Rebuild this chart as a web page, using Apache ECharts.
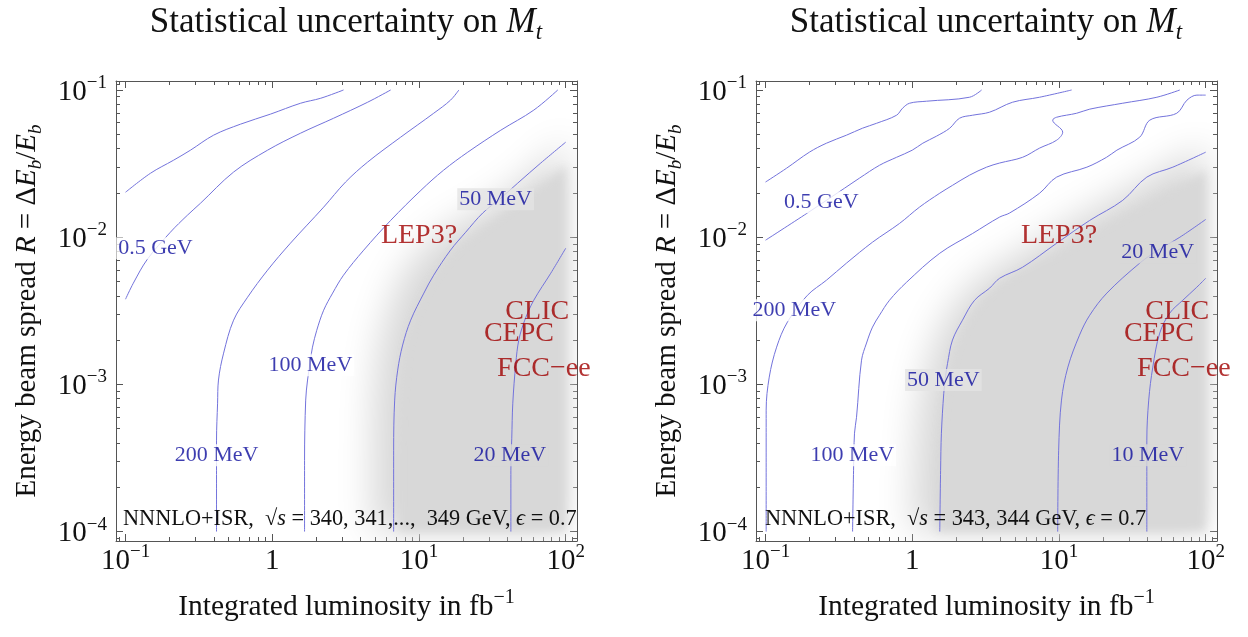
<!DOCTYPE html>
<html>
<head>
<meta charset="utf-8">
<script src="https://cdn.jsdelivr.net/npm/echarts@6.0.0/dist/echarts.min.js"></script>
<style>
html, body { margin: 0; padding: 0; background: #ffffff; }
#chart { width: 1248px; height: 637px; }
</style>
</head>
<body>
<div id="chart"></div>
<script>
// ---------------- axis ticks / tick labels ----------------
const xMajorTicks = [0.1, 1, 10, 100];
const xTickText = [['10', '−1'], ['1', ''], ['10', '1'], ['10', '2']];
const xMinorTicks = [0.09, 0.2, 0.3, 0.4, 0.5, 0.6, 0.7, 0.8, 0.9, 2, 3, 4, 5, 6, 7, 8, 9,
  20, 30, 40, 50, 60, 70, 80, 90, 110];
const yMajorTicks = [0.0001, 0.001, 0.01, 0.1];
const yTickText = [['10', '−4'], ['10', '−3'], ['10', '−2'], ['10', '−1']];
const yMinorTicks = [0.00009, 0.0002, 0.0003, 0.0004, 0.0005, 0.0006, 0.0007, 0.0008, 0.0009,
  0.002, 0.003, 0.004, 0.005, 0.006, 0.007, 0.008, 0.009,
  0.02, 0.03, 0.04, 0.05, 0.06, 0.07, 0.08, 0.09, 0.11];
const X_MIN = 0.0861, X_MAX = 119.4, Y_MIN = 0.0000863, Y_MAX = 0.1151;

// ---------------- left panel: contours [luminosity fb^-1, R] ----------------
const left1GeV = [[0.1,0.0202],[0.148,0.0272],[0.212,0.0333],[0.277,0.039],[0.398,0.0493],[0.608,0.0586],[0.974,0.0686],[1.56,0.0813],[2.14,0.0879],[3.06,0.1]];
const left500MeV = [[0.1,0.00379],[0.113,0.00487],[0.141,0.00709],[0.202,0.0108],[0.264,0.0141],[0.324,0.017],[0.545,0.0277],[0.929,0.039],[1.56,0.0509],[2.62,0.0643],[4.47,0.0826],[6.41,0.1]];
const left200MeV = [[0.417,0.0001],[0.417,0.000261],[0.417,0.000418],[0.424,0.000745],[0.43,0.00107],[0.466,0.00163],[0.545,0.00273],[0.679,0.00391],[0.929,0.00597],[1.33,0.0091],[2.24,0.016],[3.16,0.0237],[4.47,0.0324],[7.5,0.0478],[12.6,0.0695],[16.4,0.0853],[18.7,0.1]];
const left100MeV = [[1.66,0.0001],[1.66,0.000305],[1.69,0.000782],[1.74,0.00107],[1.82,0.00146],[1.88,0.00179],[2.01,0.00233],[2.24,0.00319],[2.58,0.00417],[3.06,0.00552],[4.2,0.00816],[6.41,0.013],[10.3,0.0208],[14.7,0.0285],[21.5,0.0378],[36.1,0.0533],[60.6,0.073],[88.3,0.1]];
const left50MeV = [[6.72,0.0001],[6.72,0.000357],[6.83,0.000782],[7.16,0.00125],[7.74,0.00185],[8.78,0.00273],[10.8,0.00417],[12.6,0.00552],[16.4,0.00816],[20.8,0.0108],[27.2,0.0146],[36.1,0.0184],[47.1,0.0233],[67.6,0.0319],[100,0.0442]];
const left20MeV = [[42.3,0.0001],[42.3,0.000261],[42.9,0.000431],[43.6,0.000745],[45.7,0.00139],[47.9,0.002],[52.6,0.00273],[60.6,0.00373],[79.1,0.00569],[100,0.00841]];
const leftShadeEdge = [[4.83,0.0001],[4.83,0.000357],[4.91,0.000782],[5.31,0.00171],[5.93,0.00273],[6.94,0.00436],[8.11,0.00597],[10.3,0.00816],[15.2,0.0112],[26.4,0.0152],[42.3,0.0208],[62.6,0.0285],[85.6,0.039],[100,0.0493],[100,0.0001]];
const leftShadeCore = [[7.27,0.0001],[7.27,0.000357],[7.5,0.000782],[8.11,0.00171],[9.06,0.00273],[11.1,0.00436],[13.6,0.00597],[17.8,0.00816],[26.4,0.0112],[40.3,0.0152],[67.6,0.0225],[100,0.0308],[100,0.0001]];
const leftContourLabels = [['0.5 GeV',0.16,0.0084],['200 MeV',0.417,0.00033],['100 MeV',1.82,0.00135],['50 MeV',33.3,0.0181],['20 MeV',41.6,0.00033]];

// ---------------- right panel ----------------
const right1GeV = [[0.1,0.0237],[0.139,0.0294],[0.199,0.0378],[0.26,0.0435],[0.356,0.0493],[0.458,0.055],[0.571,0.0594],[0.782,0.0674],[0.859,0.0752],[0.959,0.0813],[1.25,0.0839],[2.46,0.0893],[2.97,0.1]];
const right500MeV = [[0.1,0.00954],[0.193,0.0146],[0.345,0.0215],[0.437,0.0252],[0.598,0.0308],[0.782,0.0349],[1.0,0.039],[1.18,0.0435],[1.46,0.0485],[1.8,0.055],[2.1,0.0643],[2.58,0.0674],[3.37,0.0707],[4.83,0.0826],[7.38,0.0893],[12.2,0.1]];
const right200MeV = [[0.101,0.0001],[0.101,0.000668],[0.106,0.00112],[0.119,0.00179],[0.141,0.00265],[0.193,0.00403],[0.26,0.0051],[0.356,0.00666],[0.536,0.00925],[0.819,0.0124],[1.12,0.016],[1.54,0.0199],[1.88,0.0225],[2.46,0.0264],[3.21,0.0299],[3.94,0.0319],[5.65,0.0349],[7.38,0.0403],[9.64,0.0456],[10.6,0.0517],[9.06,0.0624],[9.64,0.0653],[13.2,0.0695],[16.2,0.0741],[27.2,0.0813],[46.5,0.0893],[66.6,0.1]];
const right100MeV = [[0.392,0.0001],[0.398,0.000261],[0.404,0.000466],[0.417,0.000598],[0.451,0.00146],[0.488,0.00191],[0.536,0.00245],[0.598,0.00295],[0.7,0.00373],[0.914,0.00494],[1.54,0.00778],[2.58,0.0106],[3.94,0.0137],[4.61,0.0146],[7.38,0.0199],[9.64,0.0256],[15.5,0.0299],[21.1,0.0349],[24.8,0.039],[35.5,0.0478],[41.6,0.0624],[63.5,0.0695],[74.5,0.0853],[87.1,0.0923],[100,0.0923]];
const right50MeV = [[1.54,0.0001],[1.56,0.000261],[1.58,0.000466],[1.64,0.000871],[1.69,0.00115],[1.74,0.00139],[1.88,0.002],[2.2,0.00273],[2.66,0.00373],[3.37,0.00451],[3.94,0.00526],[5.65,0.00625],[9.64,0.0091],[16.2,0.013],[27.2,0.0178],[39.7,0.0256],[59.7,0.0299],[100,0.0378]];
const right20MeV = [[9.8,0.0001],[9.95,0.000357],[10.4,0.000782],[11.5,0.00131],[13.8,0.00216],[16.2,0.00295],[21.2,0.00417],[35.5,0.00666],[47.2,0.00816],[66.7,0.01],[100,0.0132]];
const right10MeV = [[39.7,0.0001],[39.7,0.000274],[39.7,0.000418],[40.9,0.000782],[43.6,0.00131],[48.6,0.00223],[56.9,0.00305],[69.8,0.00373],[86.9,0.00457],[100,0.00526]];
const rightShadeEdge = [[0.99,0.0001],[1.04,0.000357],[1.12,0.000782],[1.35,0.00171],[1.66,0.00273],[2.04,0.00373],[2.66,0.00494],[3.37,0.00597],[5.83,0.00816],[10.1,0.0115],[19.0,0.0165],[35.5,0.0233],[61.6,0.0319],[100,0.0422],[100,0.0001]];
const rightShadeCore = [[1.46,0.0001],[1.51,0.000357],[1.64,0.000782],[1.94,0.00171],[2.38,0.00273],[2.97,0.00373],[3.94,0.0048],[5.4,0.00578],[8.65,0.00731],[15.0,0.01],[28.0,0.0141],[52.6,0.0199],[100,0.0285],[100,0.0001]];
const rightContourLabels = [['0.5 GeV',0.24,0.0173],['200 MeV',0.157,0.00319],['100 MeV',0.39,0.00033],['50 MeV',1.63,0.00107],['20 MeV',47.1,0.00791],['10 MeV',40.3,0.00033]];

// ---------------- experiment markers (same in both panels) ----------------
const experiments = [['LEP3?',10,0.0102],['CLIC',64,0.0031],['CEPC',48,0.0022],['FCC−ee',71,0.00127]];

// ---------------- texts ----------------
const titleText = '{n|Statistical uncertainty on }{i|M}{sb|t}';
const noteLeft = '{n|NNNLO+ISR,  √}{i|s}{n| = 340, 341,...,  349 GeV, }{i|ϵ}{n| = 0.7}';
const noteRight = '{n|NNNLO+ISR,  √}{i|s}{n| = 343, 344 GeV, }{i|ϵ}{n| = 0.7}';
const xName = '{n|Integrated luminosity in fb}{s|−1}';
const yName = '{n|Energy beam spread }{i|R}{n| = Δ}{i|E}{sb|b}{n|/}{i|E}{sb|b}';

// ---------------- styles ----------------
const FONT = 'Liberation Serif';
const TEXT = '#111111';
const FRAME = '#555555';
const LINE = '#7373dc';
const LABEL_BLUE = '#0c0c9c';
const EXP_RED = '#a00000';
const SHADE = '#d8d8d8';
const BG = { plain: '#ffffff', edge: '#e4e4e4', shade: SHADE };
const leftLabelBg = [BG.plain, BG.plain, BG.plain, BG.edge, BG.shade];
const rightLabelBg = [BG.plain, BG.plain, BG.plain, BG.edge, BG.shade, BG.shade];

function tok(size, lh, extra) {
  return Object.assign({ fontFamily: FONT, fontSize: size, color: TEXT, lineHeight: lh, fontWeight: 'normal' }, extra || {});
}
const TICK_RICH = {
  b: tok(29, 33, { verticalAlign: 'bottom' }),
  s: tok(19, 19, { verticalAlign: 'top' })
};
const NAME_RICH = {
  n: tok(29, 36),
  i: tok(29, 36, { fontStyle: 'italic' }),
  sb: tok(19, 19, { fontStyle: 'italic', verticalAlign: 'bottom' })
};
const XNAME_RICH = {
  n: tok(29.5, 38),
  s: tok(20, 20, { verticalAlign: 'top' })
};
const TITLE_RICH = {
  n: tok(35, 42),
  i: tok(35, 42, { fontStyle: 'italic' }),
  sb: tok(23, 23, { fontStyle: 'italic', verticalAlign: 'bottom' })
};
const NOTE_RICH = {
  n: tok(22.3, 26),
  i: tok(22.3, 26, { fontStyle: 'italic' })
};

function tickLabel(ticks, texts, v) {
  const idx = ticks.findIndex(t => Math.abs(t - v) <= t * 1e-6);
  if (idx < 0) return '';
  const [b, s] = texts[idx];
  return s ? '{b|' + b + '}{s|' + s + '}' : '{b|' + b + '}';
}

function xAxes(g) {
  const base = { type: 'log', logBase: 10, gridIndex: g, min: X_MIN, max: X_MAX,
    splitLine: { show: false }, axisPointer: { show: false }, silent: true };
  const tickStyle = { color: FRAME, width: 1 };
  return [
    Object.assign({}, base, { position: 'bottom',
      axisLine: { show: true, onZero: false, lineStyle: { color: FRAME, width: 1 } },
      axisTick: { show: true, inside: true, length: 7, customValues: xMajorTicks, lineStyle: tickStyle },
      axisLabel: { show: true, customValues: xMajorTicks, margin: 2,
        formatter: v => tickLabel(xMajorTicks, xTickText, v), rich: TICK_RICH },
      name: xName, nameLocation: 'middle', nameGap: 47, nameTextStyle: { rich: XNAME_RICH } }),
    Object.assign({}, base, { position: 'bottom', axisLine: { show: false },
      axisTick: { show: true, inside: true, length: 4, customValues: xMinorTicks, lineStyle: tickStyle },
      axisLabel: { show: false } }),
    Object.assign({}, base, { position: 'top',
      axisLine: { show: true, onZero: false, lineStyle: { color: FRAME, width: 1 } },
      axisTick: { show: true, inside: true, length: 7, customValues: xMajorTicks, lineStyle: tickStyle },
      axisLabel: { show: false } }),
    Object.assign({}, base, { position: 'top', axisLine: { show: false },
      axisTick: { show: true, inside: true, length: 4, customValues: xMinorTicks, lineStyle: tickStyle },
      axisLabel: { show: false } })
  ];
}
function yAxes(g) {
  const base = { type: 'log', logBase: 10, gridIndex: g, min: Y_MIN, max: Y_MAX,
    splitLine: { show: false }, axisPointer: { show: false }, silent: true };
  const tickStyle = { color: FRAME, width: 1 };
  return [
    Object.assign({}, base, { position: 'left',
      axisLine: { show: true, onZero: false, lineStyle: { color: FRAME, width: 1 } },
      axisTick: { show: true, inside: true, length: 7, customValues: yMajorTicks, lineStyle: tickStyle },
      axisLabel: { show: true, customValues: yMajorTicks, margin: 9,
        formatter: v => tickLabel(yMajorTicks, yTickText, v), rich: TICK_RICH },
      name: yName, nameLocation: 'middle', nameGap: 71, nameTextStyle: { rich: NAME_RICH } }),
    Object.assign({}, base, { position: 'left', axisLine: { show: false },
      axisTick: { show: true, inside: true, length: 4, customValues: yMinorTicks, lineStyle: tickStyle },
      axisLabel: { show: false } }),
    Object.assign({}, base, { position: 'right',
      axisLine: { show: true, onZero: false, lineStyle: { color: FRAME, width: 1 } },
      axisTick: { show: true, inside: true, length: 7, customValues: yMajorTicks, lineStyle: tickStyle },
      axisLabel: { show: false } }),
    Object.assign({}, base, { position: 'right', axisLine: { show: false },
      axisTick: { show: true, inside: true, length: 4, customValues: yMinorTicks, lineStyle: tickStyle },
      axisLabel: { show: false } })
  ];
}

// shaded region: polygons drawn off-canvas, only their blurred shadows land in the plot
function shadeSeries(g, edgePts, corePts) {
  return {
    type: 'custom', xAxisIndex: g * 4, yAxisIndex: g * 4, clip: true, silent: true, z: 1,
    data: [edgePts[0]],
    renderItem: function (params, api) {
      const OFF = 3000;
      const shift = p => { const c = api.coord(p); return [c[0] + OFF, c[1]]; };
      return { type: 'group', children: [
        { type: 'polygon', shape: { points: edgePts.map(shift) },
          style: { fill: SHADE, shadowBlur: 36, shadowColor: SHADE, shadowOffsetX: -OFF } },
        { type: 'polygon', shape: { points: corePts.map(shift) },
          style: { fill: SHADE, shadowBlur: 10, shadowColor: SHADE, shadowOffsetX: -OFF } }
      ] };
    }
  };
}
function lineSeries(g, pts) {
  return { type: 'line', xAxisIndex: g * 4, yAxisIndex: g * 4, data: pts, showSymbol: false,
    symbol: 'none', smooth: 0.35, silent: true, z: 2,
    lineStyle: { color: LINE, width: 1 } };
}
function textSeries(g, items, fontSize, color, bgs, z) {
  return { type: 'scatter', xAxisIndex: g * 4, yAxisIndex: g * 4, symbolSize: 1, silent: true, z: z,
    itemStyle: { color: 'rgba(0,0,0,0)' },
    data: items.map((it, i) => ({ name: it[0], value: [it[1], it[2]],
      label: { backgroundColor: bgs ? bgs[i] : 'transparent' } })),
    label: { show: true, position: 'inside', formatter: p => p.name, fontFamily: FONT,
      fontSize: fontSize, fontWeight: 'normal', color: color, padding: [0, 2] } };
}

const chart = echarts.init(document.getElementById('chart'), null, { renderer: 'canvas' });
chart.setOption({
  animation: false,
  backgroundColor: '#ffffff',
  title: [
    { text: titleText, left: 346, top: 2, textAlign: 'center', padding: 0, textStyle: { fontWeight: 'normal', rich: TITLE_RICH } },
    { text: titleText, left: 986, top: 2, textAlign: 'center', padding: 0, textStyle: { fontWeight: 'normal', rich: TITLE_RICH } },
    { text: noteLeft, left: 123, top: 506, padding: 0, textStyle: { fontWeight: 'normal', rich: NOTE_RICH } },
    { text: noteRight, left: 765, top: 506, padding: 0, textStyle: { fontWeight: 'normal', rich: NOTE_RICH } }
  ],
  grid: [
    { left: 116, top: 81, width: 461, height: 460, outerBoundsMode: 'none' },
    { left: 756, top: 81, width: 461, height: 460, outerBoundsMode: 'none' }
  ],
  xAxis: xAxes(0).concat(xAxes(1)),
  yAxis: yAxes(0).concat(yAxes(1)),
  series: [
    shadeSeries(0, leftShadeEdge, leftShadeCore),
    shadeSeries(1, rightShadeEdge, rightShadeCore),
    lineSeries(0, left1GeV), lineSeries(0, left500MeV), lineSeries(0, left200MeV),
    lineSeries(0, left100MeV), lineSeries(0, left50MeV), lineSeries(0, left20MeV),
    lineSeries(1, right1GeV), lineSeries(1, right500MeV), lineSeries(1, right200MeV),
    lineSeries(1, right100MeV), lineSeries(1, right50MeV), lineSeries(1, right20MeV),
    lineSeries(1, right10MeV),
    textSeries(0, leftContourLabels, 22, LABEL_BLUE, leftLabelBg, 4),
    textSeries(1, rightContourLabels, 22, LABEL_BLUE, rightLabelBg, 4),
    textSeries(0, experiments, 28, EXP_RED, null, 5),
    textSeries(1, experiments, 28, EXP_RED, null, 5)
  ]
});
</script>
</body>
</html>
